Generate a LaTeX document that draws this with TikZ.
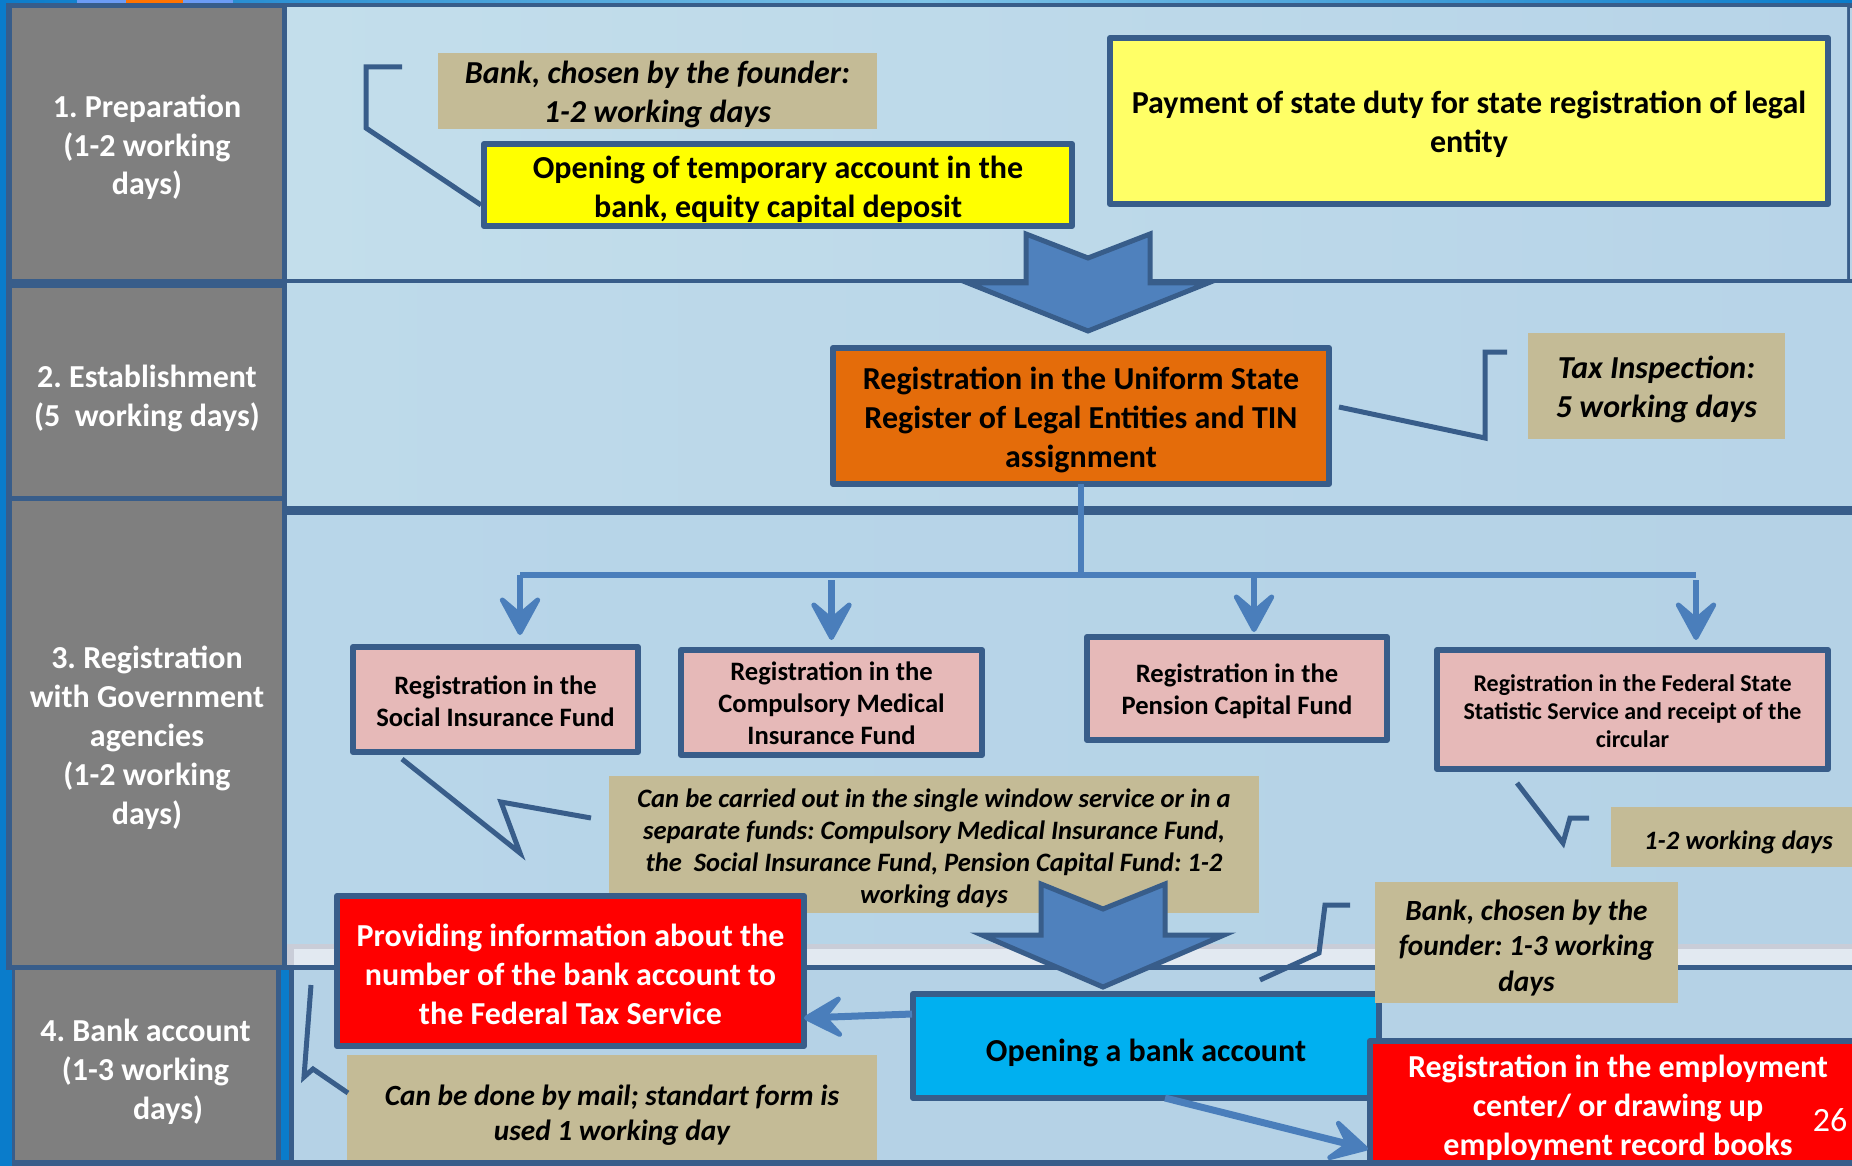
\documentclass[tikz,border=0pt]{standalone}
\usepackage{fontspec}
\setmainfont{Carlito}
\usetikzlibrary{arrows.meta}
\AtBeginDocument{\frenchspacing}
\definecolor{frame}{HTML}{385D8A}
\definecolor{flow}{HTML}{4A7EBB}
\definecolor{blockfill}{HTML}{4F81BD}
\definecolor{tanfill}{HTML}{C4BB96}
\definecolor{cellgrey}{HTML}{7F7F7F}
\definecolor{pinkbox}{HTML}{E6B9B8}
\definecolor{sidebar}{HTML}{0A7CCB}
\definecolor{stripL}{HTML}{7FC4E8}
\definecolor{pL}{HTML}{C3DEEB}
\definecolor{pM}{HTML}{D3E8F0}
\definecolor{pR}{HTML}{B7D4E8}
\definecolor{qL}{HTML}{BEDAEA}
\definecolor{rL}{HTML}{B8D6E9}
\definecolor{rM}{HTML}{CBE5EF}
\definecolor{rR}{HTML}{B5D2E6}
\definecolor{stripG}{HTML}{C9CDD8}
\definecolor{stripW}{HTML}{E2E9F1}
\definecolor{lav}{HTML}{6C9CF5}
\definecolor{yelA}{HTML}{FFFF00}
\definecolor{yelB}{HTML}{FFFF66}
\definecolor{orangebox}{HTML}{E46C0A}
\definecolor{cyanbox}{HTML}{00B0F0}
\definecolor{redbox}{HTML}{FF0000}
\newcommand{\PxBox}[7][]{%
  \pgfmathsetmacro{\pxcx}{(#3+#5)/2}%
  \pgfmathsetmacro{\pxcy}{(#4+#6)/2}%
  \pgfmathsetmacro{\pxw}{abs(#5-#3)*0.5}%
  \pgfmathsetmacro{\pxh}{abs(#6-#4)*0.5}%
  \node[#1,minimum width=\pxw pt,minimum height=\pxh pt] (#2) at (\pxcx,\pxcy) {#7};}
\newcommand{\FS}[2]{\fontsize{#1}{#2}\selectfont}
\newcommand{\TD}[1]{\rule{0pt}{\dimexpr 0.75em+#1*2\relax}}
\tikzset{
  every node/.style={inner sep=0pt,outer sep=0pt,align=center},
  cell/.style={rectangle,fill=cellgrey,text=white,font=\FS{16}{19.4}\bfseries},
  tanbox/.style={rectangle,fill=tanfill,text=black,font=\FS{16}{19.5}\bfseries\itshape},
  framed/.style={rectangle,draw=frame,line width=3pt,line join=round,font=\FS{16}{19.5}\bfseries},
  pinkb/.style={framed,fill=pinkbox,font=\FS{13.3}{16}\bfseries},
  calloutline/.style={draw=frame,line width=2.5pt,line join=miter},
  flowline/.style={draw=flow,line width=3.2pt},
  flowarrow/.style={draw=flow,line width=3.2pt,-{Stealth[length=24pt,width=26pt,inset=11pt,round,line width=2.5pt]}},
  blockarrow/.style={fill=blockfill,draw=frame,line width=2.5pt,line join=miter},
}
\begin{document}
\begin{tikzpicture}[x=0.5pt,y=-0.5pt]
\useasboundingbox (0,0) rectangle (1852,1166);
\clip (0,0) rectangle (1852,1166);
% page frame
\shade[left color=sidebar,right color=stripL] (0,0) rectangle (926,4);
\shade[left color=stripL,right color=sidebar] (926,0) rectangle (1852,4);
\fill[lav] (77,0) rectangle (233,4);
\fill[orange!90!red] (126,0) rectangle (183,4);
\fill[sidebar] (0,0) rectangle (6,1166);
\fill[frame] (6,3) rectangle (1852,1166);
\fill[sidebar] (0,970) rectangle (12,1166);
\fill[sidebar] (281,970) rectangle (289,1160);
% panels
\shade[left color=pL,middle color=pM,right color=pR] (287,8) rectangle (1847,279);
\fill[pR] (1850,8) rectangle (1852,279);
\shade[left color=qL,middle color=pM,right color=pR] (287,284) rectangle (1852,505);
\shade[left color=rL,middle color=rM,right color=rR] (287,515) rectangle (1852,944);
\fill[stripG] (287,944) rectangle (1852,949);
\fill[stripW] (294,949) rectangle (1852,965);
\fill[stripG] (287,949) rectangle (294,965);
\fill[rR] (294,970) rectangle (1852,1160);
% row heads
\PxBox[cell]{rowA}{12}{8}{282}{279}{\TD{1.6pt}1. Preparation\\(1-2 working\\days)}
\PxBox[cell]{rowB}{12}{288}{282}{496}{\TD{3pt}2. Establishment\\(5\ \ working days)}
\PxBox[cell]{rowC}{12}{501}{282}{965}{\TD{2pt}3. Registration\\with Government\\agencies\\(1-2 working\\days)}
\PxBox[cell]{rowD}{15}{970}{276}{1160}{\TD{2.9pt}4. Bank account\\(1-3 working\\\hspace*{22.6pt}days)}
% tan notes
\PxBox[tanbox]{noteBankA}{438}{53}{877}{129}{\TD{1.2pt}Bank, chosen by the founder:\\1-2 working days}
\PxBox[tanbox]{noteTax}{1528}{333}{1785}{439}{\TD{1.2pt}Tax Inspection:\\5 working days}
\PxBox[tanbox,font=\FS{13.3}{16}\bfseries\itshape]{noteFunds}{609}{776}{1259}{913}{\TD{1.8pt}Can be carried out in the single window service or in a\\separate funds: Compulsory Medical Insurance Fund,\\the\ \ Social Insurance Fund, Pension Capital Fund: 1-2\\working days}
\PxBox[tanbox,font=\FS{13.3}{17.5}\bfseries\itshape]{noteDays}{1611}{807}{1866}{867}{\TD{2.4pt}1-2 working days}
\PxBox[tanbox,font=\FS{14.65}{17.6}\bfseries\itshape]{noteMail}{347}{1055}{877}{1169}{\TD{1.4pt}Can be done by mail; standart form is\\used 1 working day}
% boxes
\PxBox[framed,fill=yelA]{yellowA}{484}{144}{1072}{226}{\TD{1.8pt}Opening of temporary account in the\\bank, equity capital deposit}
\PxBox[framed,fill=yelB]{yellowB}{1110}{38}{1828}{204}{\TD{1.4pt}Payment of state duty for state registration of legal\\entity}
\PxBox[framed,fill=orangebox]{orangeB}{833}{348}{1329}{484}{\TD{1.5pt}Registration in the Uniform State\\Register of Legal Entities and TIN\\assignment}
\PxBox[pinkb]{pinkA}{353}{647}{638}{752}{\TD{0.7pt}Registration in the\\Social Insurance Fund}
\PxBox[pinkb]{pinkB}{681}{650}{982}{755}{\TD{0.3pt}Registration in the\\Compulsory Medical\\Insurance Fund}
\PxBox[pinkb]{pinkC}{1087}{637}{1387}{740}{\TD{1.3pt}Registration in the\\Pension Capital Fund}
\PxBox[pinkb,font=\FS{12}{14}\bfseries]{pinkD}{1437}{650}{1828}{769}{\TD{0.7pt}Registration in the Federal State\\Statistic Service and receipt of the\\circular}
\PxBox[framed,fill=cyanbox]{bluebox}{913}{994}{1379}{1098}{\TD{3pt}Opening a bank account}
\PxBox[tanbox,font=\FS{14.65}{17.6}\bfseries\itshape]{noteBankB}{1375}{882}{1678}{1003}{\TD{2.4pt}Bank, chosen by the\\founder: 1-3 working\\days}
\PxBox[framed,fill=redbox,text=white]{redA}{337}{896}{804}{1046}{\TD{1.1pt}Providing information about the\\number of the bank account to\\the Federal Tax Service}
\PxBox[framed,fill=redbox,text=white]{redB}{1370}{1041}{1866}{1169}{\TD{1pt}Registration in the employment\\center/ or drawing up\\employment record books}
% block arrows
\path[blockarrow] (1026,234) -- (1088,258) -- (1150,234) -- (1150,283) -- (1208,283) -- (1088,331) -- (968,283) -- (1026,283) -- cycle;
\path[blockarrow] (1041,884) -- (1103,909) -- (1165,884) -- (1165,935) -- (1224,935) -- (1103,987) -- (982,935) -- (1041,935) -- cycle;
% flow connectors
\coordinate (busL) at (520,575);
\coordinate (busR) at (1696,575);
\coordinate (busM) at (orangeB.south |- busL);
\coordinate (stemB) at (831.5,580);
\coordinate (stemC) at (1254,575);
\coordinate (stemD) at (1696,580);
\coordinate (tipA) at (520,635);
\coordinate (tipB) at (831.5,640);
\coordinate (tipC) at (1254,632);
\coordinate (tipD) at (1696,640);
\path[flowline] (orangeB.south) -- (busM);
\path[flowline] (busL) -- (busR);
\path[flowarrow] (busL) -- (tipA);
\path[flowarrow] (stemB) -- (tipB);
\path[flowarrow] (stemC) -- (tipC);
\path[flowarrow] (stemD) -- (tipD);
\coordinate (blueL) at (912,1014);
\coordinate (redAin) at (804,1018);
\path[flowarrow,line width=3.5pt] (blueL) -- (redAin);
\coordinate (blueB) at (1165,1098);
\coordinate (redBin) at (1368,1149);
\path[flowarrow,line width=3.5pt] (blueB) -- (redBin);
% callouts
\coordinate (ca1) at (402,67);
\coordinate (ca2) at (481,205);
\path[calloutline] (ca1) -- (366,67) -- (366,128) -- (ca2);
\coordinate (cb1) at (1339,407);
\coordinate (cb2) at (1507,352);
\path[calloutline] (cb1) -- (1485,438) -- (1485,352) -- (cb2);
\coordinate (cc1) at (402,759);
\coordinate (cc2) at (591,818);
\path[calloutline] (cc1) -- (520,853) -- (501,802) -- (cc2);
\coordinate (cd1) at (1517,783);
\coordinate (cd2) at (1589,818);
\path[calloutline] (cd1) -- (1563,843) -- (1570,818) -- (cd2);
\coordinate (ce1) at (1260,980);
\coordinate (ce2) at (1350,905);
\path[calloutline] (ce1) -- (1319,953) -- (1325,905) -- (ce2);
\coordinate (cf1) at (311,985);
\coordinate (cf2) at (348,1093);
\path[calloutline] (cf1) -- (304,1077) -- (313,1069) -- (cf2);
% bottom edge
\fill[frame] (0,1160) rectangle (1852,1166);
\fill[sidebar] (0,1160) rectangle (12,1166);
% page number
\node[text=white,font=\FS{17}{20}] (pageno) at (1830,1120) {26};
\end{tikzpicture}
\end{document}
